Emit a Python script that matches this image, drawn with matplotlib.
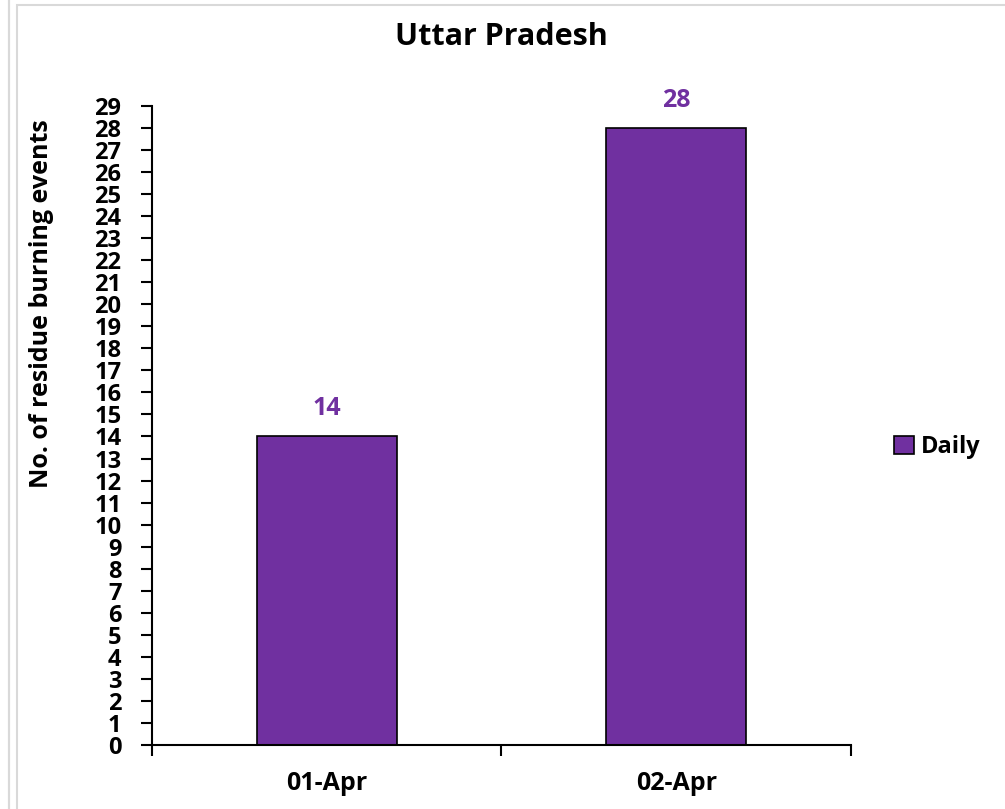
import numpy as np
import matplotlib.pyplot as plt
from matplotlib.patches import Rectangle

plt.rcParams['font.family'] = ['Open Sans', 'DejaVu Sans']

dates = ["01-Apr", "02-Apr"]
daily = [14, 28]
purple = "#7030A0"

fig = plt.figure(figsize=(10.05, 8.09), dpi=100)
# chart frame borders like the screenshot
fig.patches.append(Rectangle((17 / 1005, -0.01), 1.0, 1 - 5 / 809 + 0.01, transform=fig.transFigure,
                             fill=False, edgecolor="#d9d9d9", linewidth=1.5))
fig.patches.append(Rectangle((9 / 1005, -0.01), 0.0, 1.02, transform=fig.transFigure,
                             fill=False, edgecolor="#d9d9d9", linewidth=1.5))

ax = fig.add_axes([0.1512, 0.0791, 0.6955, 0.790])
x = np.arange(len(dates))
bars = ax.bar(x, daily, width=0.4, color=purple, edgecolor="black", linewidth=1.2, label="Daily")

for xi, v in zip(x, daily):
    ax.text(xi, v + 0.7, str(v), ha="center", va="bottom", color=purple,
            fontsize=18, fontweight="bold")

ax.set_xlim(-0.5, 1.5)
ax.set_ylim(0, 29)
ax.set_yticks(range(0, 30))
ax.set_yticklabels([str(i) for i in range(0, 30)], fontsize=17, fontweight="bold")
ax.set_xticks([-0.5, 0.5, 1.5])
ax.set_xticklabels([])
ax.set_xticks(x, minor=True)
ax.set_xticklabels(dates, minor=True, fontsize=18, fontweight="bold")
ax.tick_params(axis="x", which="minor", length=0, pad=19)
ax.tick_params(axis="x", which="major", length=8, width=1.5, direction="out")
ax.tick_params(axis="y", length=8, width=1.5, direction="out", pad=14)

for s in ["top", "right"]:
    ax.spines[s].set_visible(False)
for s in ["left", "bottom"]:
    ax.spines[s].set_linewidth(1.5)

ax.set_ylabel("No. of residue burning events", fontsize=18, fontweight="bold")
ax.yaxis.set_label_coords(-0.14, 0.69)
ax.set_title("Uttar Pradesh", fontsize=22, fontweight="bold", pad=44)

ax.legend(loc="center left", bbox_to_anchor=(1.031, 0.466), frameon=False,
          prop={"size": 17, "weight": "bold"}, handlelength=0.85, handleheight=0.85,
          handletextpad=0.3)

fig.savefig("out.png", dpi=100)
